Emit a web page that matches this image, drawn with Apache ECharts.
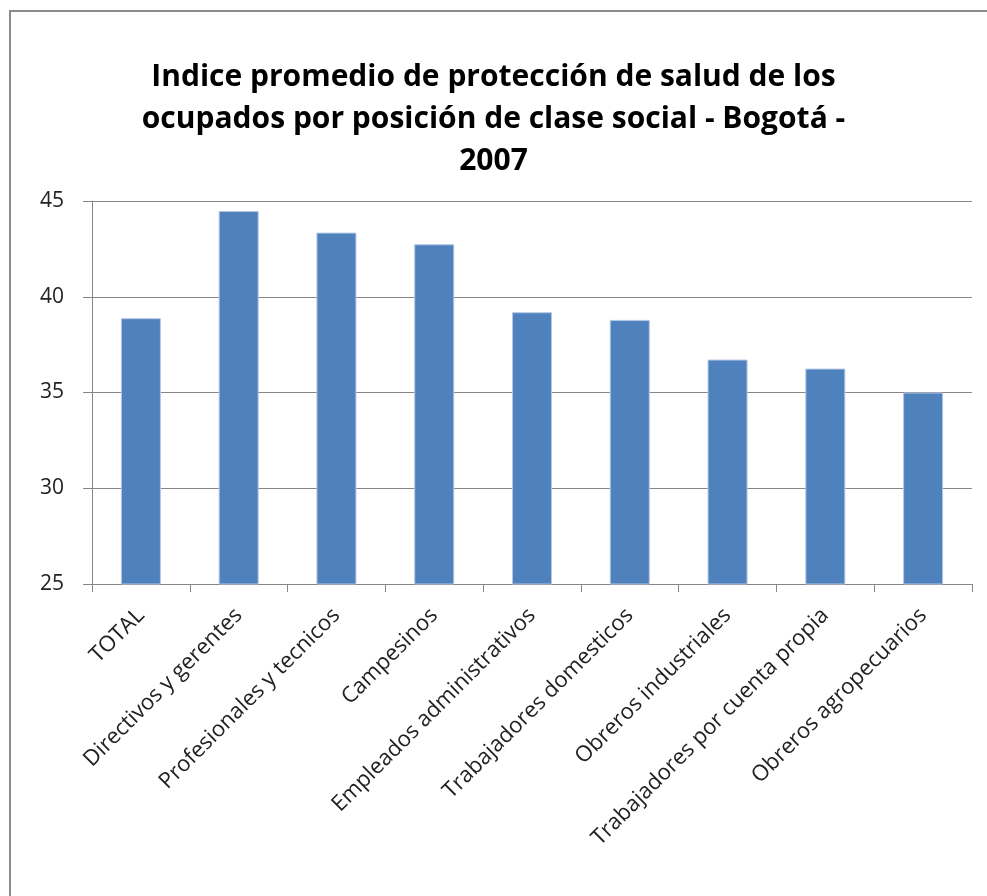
<!DOCTYPE html>
<html>
<head>
<meta charset="UTF-8">
<title>Indice promedio de protección de salud</title>
<script src="https://cdn.jsdelivr.net/npm/echarts@6/dist/echarts.min.js"></script>
<style>
  html, body { margin: 0; padding: 0; background: #fff; }
  #chart { width: 987px; height: 896px; }
</style>
</head>
<body>
<div id="chart"></div>
<script type="text/javascript">
  // datos
  var categorias = ['TOTAL', 'Directivos y gerentes', 'Profesionales y tecnicos', 'Campesinos',
    'Empleados administrativos', 'Trabajadores domesticos', 'Obreros industriales',
    'Trabajadores por cuenta propia', 'Obreros agropecuarios'];
  var indice = [38.88, 44.48, 43.35, 42.74, 39.19, 38.79, 36.72, 36.25, 35.0];
  var ticksY = [25, 30, 35, 40, 45];

  var chart = echarts.init(document.getElementById('chart'));
  var option = {
    backgroundColor: '#fff',
    animation: false,
    title: {
      text: 'Indice promedio de protección de salud de los\nocupados por posición de clase social - Bogotá -\n2007',
      left: 'center',
      top: 51,
      textStyle: {
        fontFamily: 'Open Sans',
        fontWeight: 'bold',
        fontSize: 30,
        lineHeight: 42,
        color: '#000'
      }
    },
    graphic: [{
      type: 'rect',
      shape: { x: 10, y: 11, width: 1000, height: 1000 },
      style: { fill: 'none', stroke: '#8c8c8c', lineWidth: 2 },
      silent: true
    }],
    grid: { left: 92, right: 15, top: 201, bottom: 312 },
    xAxis: {
      type: 'category',
      data: categorias,
      axisLine: { lineStyle: { color: '#868686' } },
      axisTick: { show: true, length: 8, alignWithLabel: false, lineStyle: { color: '#868686' } },
      axisLabel: {
        interval: 0,
        rotate: 45,
        margin: 28,
        fontFamily: 'Open Sans',
        fontSize: 22,
        color: '#222'
      }
    },
    yAxis: {
      type: 'value',
      min: ticksY[0],
      max: ticksY[ticksY.length - 1],
      interval: 5,
      axisLine: { show: true, lineStyle: { color: '#868686' } },
      axisTick: { show: true, length: 9, lineStyle: { color: '#868686' } },
      splitLine: { show: true, lineStyle: { color: '#868686' } },
      axisLabel: {
        margin: 28,
        fontFamily: 'Open Sans',
        fontSize: 21,
        color: '#222'
      }
    },
    series: [{
      type: 'bar',
      data: indice,
      barWidth: 40,
      itemStyle: { color: '#4f81bd', borderColor: '#b3c7e3', borderWidth: 1 }
    }]
  };
  chart.setOption(option);
</script>
</body>
</html>
